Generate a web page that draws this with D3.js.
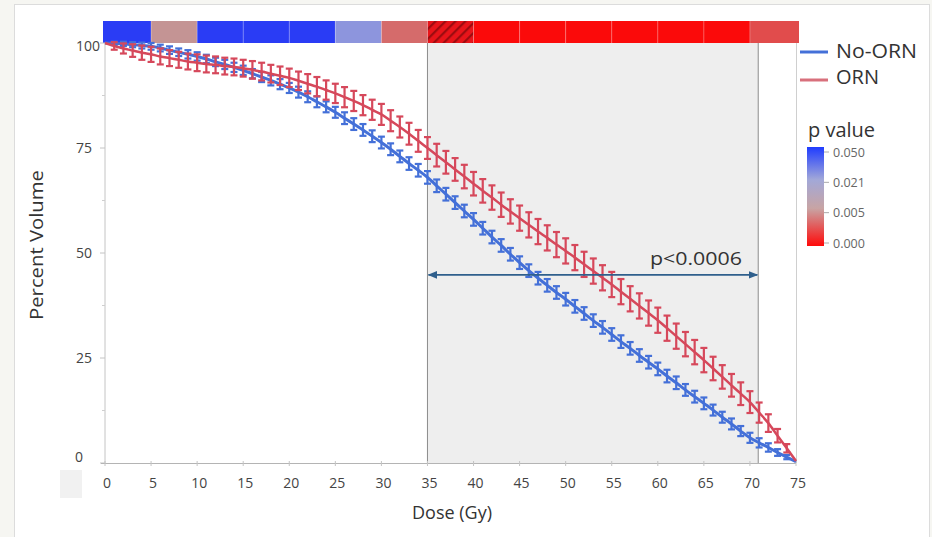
<!DOCTYPE html>
<html><head><meta charset="utf-8">
<script src="https://cdn.jsdelivr.net/npm/d3@7/dist/d3.min.js"></script>
<style>
html,body{margin:0;padding:0;background:#f6f6f2;}
svg{display:block;}
text{font-family:"Open Sans","Noto Sans",sans-serif;}
</style></head>
<body>
<svg id="chart" width="932" height="537"></svg>
<script>
// ---------- DATA ----------
const dose = d3.range(0, 76); // 0..75 Gy, 1 Gy steps
const noOrn = [100.0,99.9,99.8,99.6,99.4,99.2,98.8,98.3,97.8,97.3,
  96.8,96.2,95.5,94.9,94.2,93.5,92.7,91.9,91.1,90.2,
  89.3,88.3,87.2,86.0,84.8,83.5,82.1,80.7,79.3,77.8,
  76.3,74.7,73.0,71.3,69.7,68.0,66.0,64.0,62.0,60.0,
  58.0,55.9,53.8,51.8,49.7,47.7,45.8,44.0,42.3,40.6,
  39.0,37.3,35.6,33.9,32.3,30.6,28.9,27.3,25.6,24.0,
  22.4,20.7,19.1,17.4,15.8,14.2,12.6,10.9,9.3,7.6,
  6.0,4.8,3.7,2.5,1.4,0.3];
const orn = [100.0,99.3,98.7,98.2,97.7,97.3,96.8,96.4,96.0,95.6,
  95.3,95.0,94.8,94.5,94.3,94.0,93.6,93.2,92.7,92.2,
  91.7,91.0,90.3,89.6,88.8,88.0,87.1,86.2,85.2,84.1,
  83.0,81.5,80.0,78.4,76.7,75.0,73.3,71.6,69.9,68.2,
  66.5,64.8,63.2,61.5,59.9,58.3,56.7,55.1,53.6,52.0,
  50.5,48.9,47.3,45.7,44.1,42.5,40.8,39.1,37.4,35.7,
  34.0,32.1,30.2,28.3,26.4,24.5,22.5,20.5,18.5,16.5,
  14.5,12.0,9.5,6.5,3.5,0.5];
const noOrnErr = [0,0.4,0.5,0.6,0.7,0.8,0.8,0.9,0.9,1.0,
  1.0,1.0,1.0,1.1,1.1,1.1,1.1,1.2,1.2,1.2,
  1.2,1.3,1.3,1.3,1.3,1.3,1.4,1.4,1.4,1.4,
  1.4,1.4,1.4,1.5,1.5,1.5,1.5,1.5,1.5,1.5,
  1.5,1.5,1.5,1.5,1.5,1.5,1.5,1.5,1.5,1.5,
  1.5,1.5,1.5,1.5,1.5,1.5,1.5,1.5,1.5,1.5,
  1.5,1.5,1.5,1.4,1.4,1.4,1.3,1.3,1.3,1.2,
  1.2,1.1,1.0,0.8,0.5,0];
const ornErr = [0,0.9,1.2,1.5,1.7,1.8,1.9,1.9,1.9,1.9,
  2.0,2.0,2.0,2.0,2.0,2.0,2.1,2.1,2.1,2.2,
  2.2,2.2,2.3,2.3,2.3,2.3,2.4,2.4,2.4,2.4,
  2.5,2.5,2.5,2.6,2.6,2.6,2.7,2.7,2.7,2.8,
  2.8,2.8,2.9,2.9,2.9,3.0,3.0,3.0,3.0,3.0,
  3.0,3.0,3.0,3.0,3.0,3.0,3.0,3.0,3.0,3.0,
  3.0,3.0,3.0,2.9,2.9,2.9,2.8,2.8,2.7,2.7,
  2.6,2.4,2.1,1.6,1.0,0];
// p-value strip: one value per 5 Gy segment
const segStart = [0,5,10,15,20,25,30,35,40,45,50,55,60,65,70];
const segP     = [0.05,0.005,0.05,0.05,0.05,0.026,0.0035,0.0004,0,0,0,0,0,0,0.0024];
const segHatch = [0,0,0,0,0,0,0,1,0,0,0,0,0,0,0];
const xTicks = [0,5,10,15,20,25,30,35,40,45,50,55,60,65,70,75];
const yTicks = [0,25,50,75,100];
const yMinor = [12.5,37.5,62.5,87.5];
const regionStart = 35, regionEnd = 70.9, arrowLevel = 44.8;
const pText = "p<0.0006";
const legendTicks = ["0.050","0.021","0.005","0.000"];
const seriesNames = ["No-ORN","ORN"];

// ---------- DRAW ----------
const svg = d3.select("#chart");
const BLUE = "#4470d8", RED = "#d6485b";
svg.append("rect").attr("x",14.5).attr("y",4.5).attr("width",915).attr("height",540)
  .attr("fill","#fff").attr("stroke","#dcdcdc");
svg.append("rect").attr("x",60).attr("y",470).attr("width",22).attr("height",28).attr("fill","#f1f1f1");

const x = d3.scaleLinear().domain([0,75]).range([105,796]);
const y = d3.scaleLinear().domain([0,100]).range([463,43]);

const defs = svg.append("defs");
const pat = defs.append("pattern").attr("id","hatch").attr("patternUnits","userSpaceOnUse")
  .attr("width",7).attr("height",7).attr("patternTransform","rotate(-45)");
pat.append("rect").attr("width",7).attr("height",7).attr("fill","#e8141a");
pat.append("rect").attr("width",7).attr("height",2.2).attr("fill","#9e0c10");

const pColor = d3.scaleLinear().domain([0,0.005,0.021,0.05])
  .range(["#fb0a0a","#c49494","#a2a8d8","#2a3cf5"]);

// shaded region
svg.append("rect").attr("x",x(regionStart)).attr("y",y(100))
  .attr("width",x(regionEnd)-x(regionStart)).attr("height",y(0)-y(100))
  .attr("fill","#eeeeee");
[regionStart,regionEnd].forEach(v=>svg.append("line").attr("x1",x(v)).attr("x2",x(v))
  .attr("y1",y(100)).attr("y2",y(0)).attr("stroke","#8c8c8c").attr("stroke-width",1));

// right frame
svg.append("line").attr("x1",x(75)+0.5).attr("x2",x(75)+0.5).attr("y1",y(100)).attr("y2",y(0))
  .attr("stroke","#cfcfcf");

// p-value strip
const strip = svg.append("g");
segStart.forEach((s,i)=>{
  const x0 = i===0 ? x(s)-2 : x(s);
  const x1 = i===segStart.length-1 ? x(s+5)+3 : x(s+5);
  strip.append("rect").attr("x",x0).attr("y",21).attr("width",x1-x0).attr("height",y(100)-21)
    .attr("fill", segHatch[i] ? "url(#hatch)" : pColor(segP[i]));
  if(i>0) strip.append("line").attr("x1",x0).attr("x2",x0).attr("y1",21).attr("y2",y(100))
    .attr("stroke","rgba(255,255,255,0.25)").attr("stroke-width",1);
});

// axes
const yAxis = svg.append("g");
yAxis.append("line").attr("x1",105).attr("x2",105).attr("y1",y(100)).attr("y2",y(0)).attr("stroke","#c4c4c4");
yTicks.forEach(t=>{
  yAxis.append("line").attr("x1",100).attr("x2",105).attr("y1",y(t)).attr("y2",y(t)).attr("stroke","#c4c4c4");
  const dx = t===100 ? -5 : (t===0 ? -22 : -13);
  yAxis.append("text").attr("x",105+dx).attr("y",y(t)).attr("dy",t===100?"0.6em":(t===0?"-0.05em":"0.36em"))
    .attr("text-anchor","end").attr("font-size",14).attr("fill","#444").text(t);
});
yMinor.forEach(t=>yAxis.append("line").attr("x1",102).attr("x2",105).attr("y1",y(t)).attr("y2",y(t)).attr("stroke","#cfcfcf"));

const xAxis = svg.append("g");
xAxis.append("line").attr("x1",x(0)-4).attr("x2",x(75)).attr("y1",y(0)+0.5).attr("y2",y(0)+0.5).attr("stroke","#b4b4b4");
xTicks.forEach(t=>{
  xAxis.append("line").attr("x1",x(t)).attr("x2",x(t)).attr("y1",y(0)-2).attr("y2",y(0)+3).attr("stroke","#c4c4c4");
  xAxis.append("text").attr("x",x(t)+2).attr("y",488).attr("text-anchor","middle")
    .attr("font-size",14).attr("fill","#444").text(t);
});
svg.append("text").attr("x",452).attr("y",519).attr("text-anchor","middle").attr("font-size",18)
  .attr("fill","#333").text("Dose (Gy)");
svg.append("text").attr("transform","translate(43,245) rotate(-90)").attr("text-anchor","middle")
  .attr("font-size",18).attr("fill","#333").attr("textLength",150).attr("lengthAdjust","spacingAndGlyphs")
  .text("Percent Volume");

// series
function drawSeries(vals, errs, color, lw){
  const g = svg.append("g");
  dose.forEach((d,i)=>{
    if(errs[i]<=0) return;
    const cx = x(d), yt = y(vals[i]+errs[i]), yb = y(vals[i]-errs[i]);
    g.append("line").attr("x1",cx).attr("x2",cx).attr("y1",yt).attr("y2",yb).attr("stroke",color).attr("stroke-width",2.2);
    g.append("line").attr("x1",cx-3.5).attr("x2",cx+3.5).attr("y1",yt).attr("y2",yt).attr("stroke",color).attr("stroke-width",2.2);
    g.append("line").attr("x1",cx-3.5).attr("x2",cx+3.5).attr("y1",yb).attr("y2",yb).attr("stroke",color).attr("stroke-width",2.2);
  });
  const line = d3.line().x((d,i)=>x(dose[i])).y(d=>y(d)).curve(d3.curveMonotoneX);
  g.append("path").datum(vals).attr("d",line).attr("fill","none").attr("stroke",color).attr("stroke-width",lw);
}
drawSeries(noOrn, noOrnErr, BLUE, 3);
drawSeries(orn, ornErr, RED, 2.5);

// arrow
const ac = "#2f5f8c";
["arrS","arrE"].forEach((id,k)=>{
  defs.append("marker").attr("id",id).attr("viewBox","0 0 10 10").attr("refX",k?9:1).attr("refY",5)
    .attr("markerWidth",6).attr("markerHeight",6).attr("orient","auto")
    .append("path").attr("d",k?"M0,1 L10,5 L0,9 z":"M10,1 L0,5 L10,9 z").attr("fill",ac);
});
svg.append("line").attr("x1",x(regionStart)+1).attr("x2",x(regionEnd)-1).attr("y1",y(arrowLevel)).attr("y2",y(arrowLevel))
  .attr("stroke",ac).attr("stroke-width",1.6).attr("marker-start","url(#arrS)").attr("marker-end","url(#arrE)");
svg.append("text").attr("x",650).attr("y",265).attr("font-size",19).attr("fill","#333")
  .attr("textLength",92).attr("lengthAdjust","spacingAndGlyphs").text(pText);

// legend
const lg = svg.append("g");
[[BLUE,52],["#d8707c",80]].forEach(([c,yy],i)=>{
  lg.append("line").attr("x1",800).attr("x2",828).attr("y1",yy).attr("y2",yy).attr("stroke",c).attr("stroke-width",3);
});
lg.append("text").attr("x",836).attr("y",58).attr("font-size",20).attr("fill","#333")
  .attr("textLength",81).attr("lengthAdjust","spacingAndGlyphs").text(seriesNames[0]);
lg.append("text").attr("x",836).attr("y",84).attr("font-size",20).attr("fill","#333").text(seriesNames[1]);
lg.append("text").attr("x",808).attr("y",137).attr("font-size",20).attr("fill","#333").text("p value");
const grad = defs.append("linearGradient").attr("id","pgrad").attr("x1",0).attr("x2",0).attr("y1",0).attr("y2",1);
[[0,"#1f3cff"],[0.33,"#a2a8d8"],[0.62,"#c8a4a4"],[1,"#ff0a0a"]].forEach(([o,c])=>
  grad.append("stop").attr("offset",o).attr("stop-color",c));
lg.append("rect").attr("x",807).attr("y",147).attr("width",17).attr("height",99).attr("fill","url(#pgrad)");
const ly = d3.scalePoint().domain(legendTicks).range([152,243]);
legendTicks.forEach(t=>{
  lg.append("line").attr("x1",824).attr("x2",829).attr("y1",ly(t)).attr("y2",ly(t)).attr("stroke","#aaa");
  lg.append("text").attr("x",833).attr("y",ly(t)).attr("dy","0.36em").attr("font-size",12.5).attr("fill","#666").text(t);
});
</script>
</body></html>
